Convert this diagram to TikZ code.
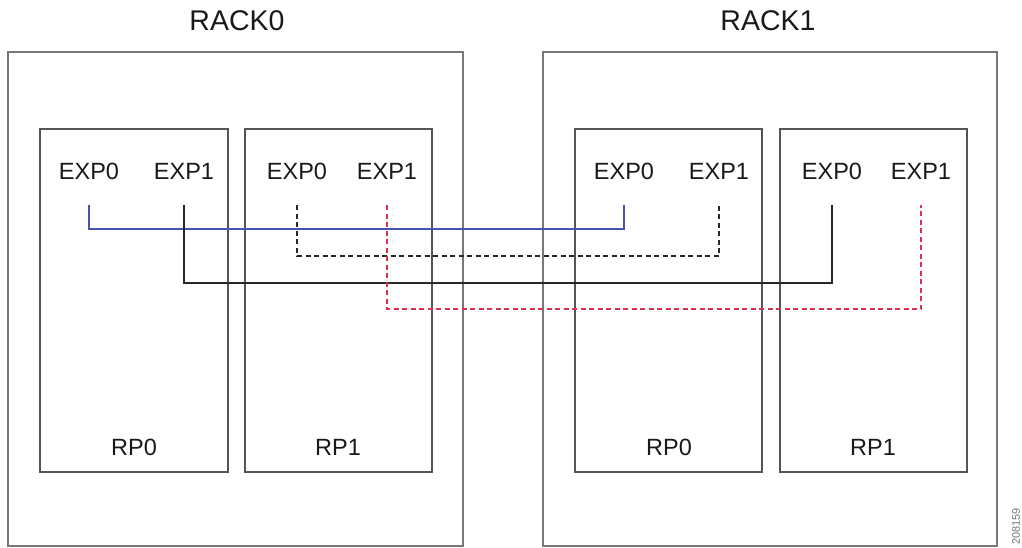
\documentclass[tikz,border=0pt]{standalone}
\usepackage{fontspec}
\setmainfont{Liberation Sans}
\definecolor{linkblue}{RGB}{70,85,170}
\definecolor{linkred}{RGB}{220,50,80}
\definecolor{linkblack}{RGB}{40,40,40}
\definecolor{rackgray}{RGB}{120,120,120}
\definecolor{rpgray}{RGB}{85,85,85}
\definecolor{txt}{RGB}{25,25,25}
\begin{document}
\begin{tikzpicture}[x=1pt,y=-1pt,
  rackbox/.style={draw=rackgray,line width=1.6pt,minimum width=455pt,minimum height=494pt,inner sep=0pt},
  rpbox/.style={draw=rpgray,line width=1.3pt,minimum width=187pt,minimum height=343pt,inner sep=0pt},
  racklbl/.style={font=\fontsize{28.5}{32}\selectfont,text=txt,inner sep=0pt,anchor=base},
  explbl/.style={font=\fontsize{23.5}{28}\selectfont,text=txt,inner sep=0pt,anchor=base},
  bluelink/.style={color=linkblue,line width=2pt},
  blackdash/.style={color=linkblack,line width=2pt,dash pattern=on 5pt off 3.5pt},
  blacklink/.style={color=linkblack,line width=2pt},
  reddash/.style={color=linkred,line width=2pt,dash pattern=on 5pt off 3.5pt}
]
\useasboundingbox (0,0) rectangle (1022,548);
\clip (0,0) rectangle (1022,548);

% racks
\node[rackbox] (rack0) at (235.5,299) {};
\node[rackbox,minimum width=454pt] (rack1) at (770,299) {};
\node[racklbl] (rack0lbl) at (237,31) {RACK0};
\node[racklbl] (rack1lbl) at (768,31) {RACK1};

% route processors
\node[rpbox,minimum width=188pt] (r0p0) at (134,300.5) {};
\node[rpbox] (r0p1) at (338.5,300.5) {};
\node[rpbox] (r1p0) at (668.5,300.5) {};
\node[rpbox] (r1p1) at (873.5,300.5) {};

\node[explbl] (r0p0lbl) at (134,455) {RP0};
\node[explbl] (r0p1lbl) at (338,455) {RP1};
\node[explbl] (r1p0lbl) at (669,455) {RP0};
\node[explbl] (r1p1lbl) at (873,455) {RP1};

% expansion ports
\node[explbl] (a0) at (89,179) {EXP0};
\node[explbl] (a1) at (184,179) {EXP1};
\node[explbl] (b0) at (297,179) {EXP0};
\node[explbl] (b1) at (387,179) {EXP1};
\node[explbl] (c0) at (624,179) {EXP0};
\node[explbl] (c1) at (719,179) {EXP1};
\node[explbl] (d0) at (832,179) {EXP0};
\node[explbl] (d1) at (921,179) {EXP1};

% connections
\draw[bluelink] ([yshift=-26pt]a0.south) -- ++(0,24) -| ([yshift=-26pt]c0.south);
\draw[blackdash] ([yshift=-26pt]b0.south) -- ++(0,51) -| ([yshift=-26pt]c1.south);
\draw[blacklink] ([yshift=-26pt]a1.south) -- ++(0,78) -| ([yshift=-26pt]d0.south);
\draw[reddash] ([yshift=-26pt]b1.south) -- ++(0,104) -| ([yshift=-26pt]d1.south);

% figure number
\node[font=\fontsize{11}{13}\selectfont,text=black!55,rotate=90,anchor=east,inner sep=0pt] (fignum) at (1016,508) {208159};
\end{tikzpicture}
\end{document}
